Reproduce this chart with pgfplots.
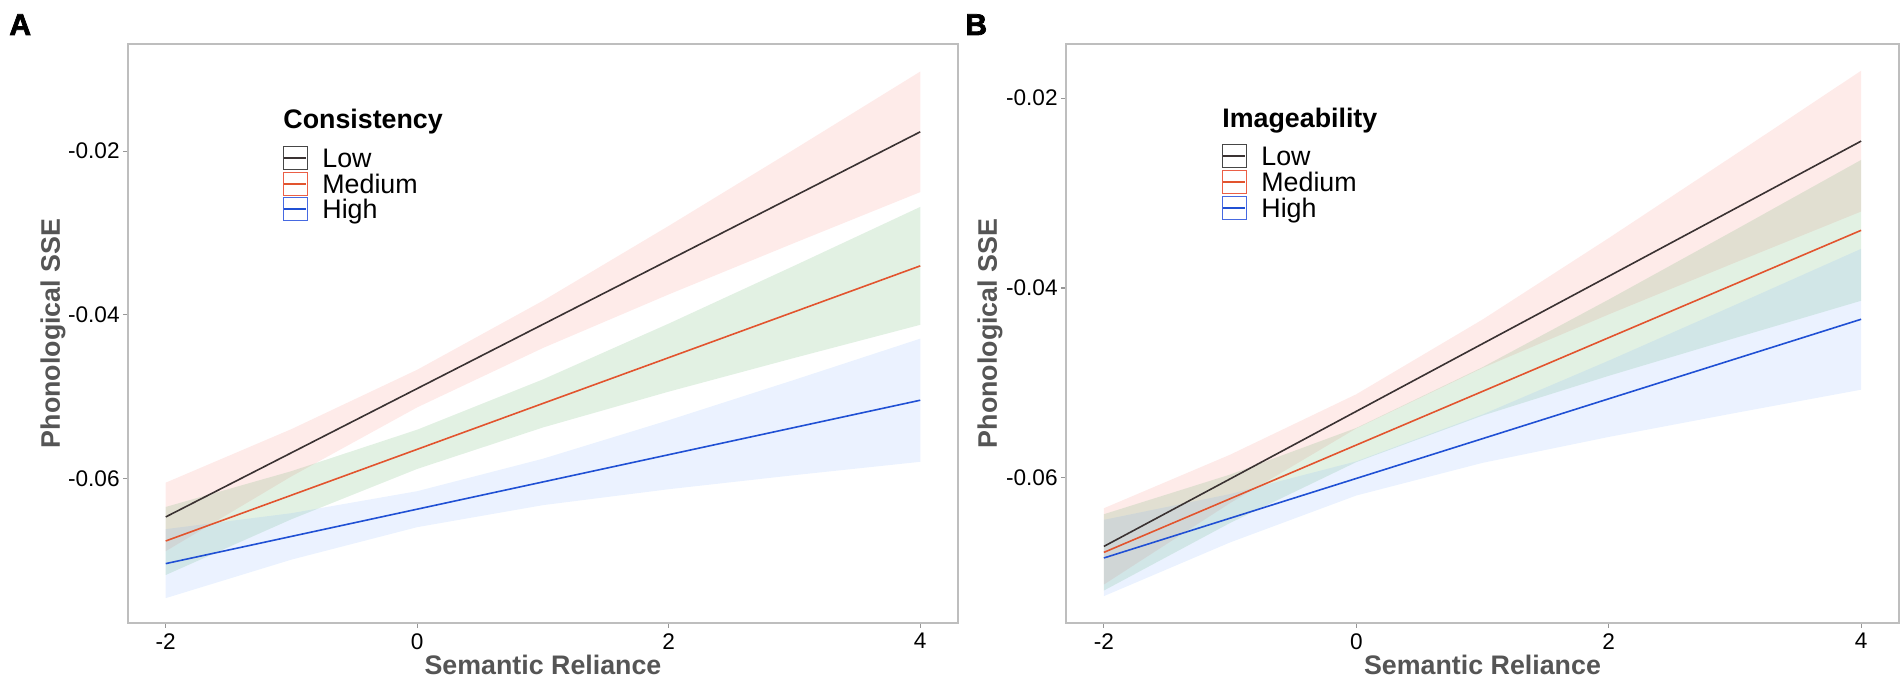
\documentclass[border=0pt]{standalone}
\usepackage{fontspec}
\setmainfont{Liberation Sans}
\newfontfamily\heavyfont[BoldFeatures={FakeBold=2.5}]{Liberation Sans}
\usepackage{pgfplots}
\usepackage{pgfplotstable}
\pgfplotsset{compat=1.18}
\usepgfplotslibrary{fillbetween}

\definecolor{lowline}{RGB}{58,50,50}
\definecolor{medline}{RGB}{226,84,46}
\definecolor{highline}{RGB}{32,80,212}
\definecolor{lowfill}{RGB}{248,118,109}
\definecolor{medfill}{RGB}{60,160,70}
\definecolor{highfill}{RGB}{97,156,255}
\definecolor{axgray}{RGB}{190,190,190}
\definecolor{tickgray}{RGB}{150,150,150}
\definecolor{labgray}{RGB}{85,85,85}
\definecolor{lowkey}{RGB}{70,70,70}
\definecolor{medkey}{RGB}{235,95,70}
\definecolor{highkey}{RGB}{70,105,225}

% Panel A: Consistency
\pgfplotstableread{
x lo fit hi
-2 -0.06892 -0.06473 -0.06054
-1 -0.05977 -0.05688 -0.05399
0 -0.05133 -0.04903 -0.04673
1 -0.04407 -0.04118 -0.03829
2 -0.03752 -0.03333 -0.02914
3 -0.03122 -0.02549 -0.01976
4 -0.02501 -0.01764 -0.01027
}\LowA
\pgfplotstableread{
x lo fit hi
-2 -0.07183 -0.06767 -0.06351
-1 -0.06501 -0.06207 -0.05913
0 -0.05886 -0.05646 -0.05406
1 -0.05379 -0.05085 -0.04791
2 -0.04941 -0.04525 -0.04109
3 -0.04528 -0.03964 -0.03400
4 -0.04124 -0.03403 -0.02682
}\MedA
\pgfplotstableread{
x lo fit hi
-2 -0.07466 -0.07044 -0.06622
-1 -0.06995 -0.06711 -0.06427
0 -0.06598 -0.06378 -0.06158
1 -0.06329 -0.06045 -0.05761
2 -0.06134 -0.05712 -0.05290
3 -0.05962 -0.05379 -0.04796
4 -0.05799 -0.05046 -0.04293
}\HighA
% Panel B: Imageability
\pgfplotstableread{
x lo fit hi
-2 -0.07125 -0.06723 -0.06321
-1 -0.06267 -0.06012 -0.05757
0 -0.05480 -0.05300 -0.05120
1 -0.04843 -0.04588 -0.04333
2 -0.04279 -0.03877 -0.03475
3 -0.03734 -0.03165 -0.02596
4 -0.03195 -0.02453 -0.01711
}\LowB
\pgfplotstableread{
x lo fit hi
-2 -0.07188 -0.06786 -0.06384
-1 -0.06476 -0.06221 -0.05966
0 -0.05835 -0.05655 -0.05475
1 -0.05345 -0.05090 -0.04835
2 -0.04926 -0.04524 -0.04122
3 -0.04528 -0.03959 -0.03390
4 -0.04135 -0.03393 -0.02651
}\MedB
\pgfplotstableread{
x lo fit hi
-2 -0.07247 -0.06845 -0.06443
-1 -0.06681 -0.06426 -0.06171
0 -0.06187 -0.06007 -0.05827
1 -0.05843 -0.05588 -0.05333
2 -0.05570 -0.05168 -0.04766
3 -0.05318 -0.04749 -0.04180
4 -0.05072 -0.04330 -0.03588
}\HighB

\pgfplotsset{panel/.style={
  scale only axis, height=289.5bp, anchor=south west,
  xmin=-2.3, xmax=4.3,
  xtick={-2,0,2,4}, xticklabels={-2,0,2,4},
  ytick={-0.06,-0.04,-0.02}, yticklabels={-0.06,-0.04,-0.02},
  scaled y ticks=false,
  axis line style={axgray, line width=0.8bp},
  tick style={tickgray, line width=0.6bp},
  tick align=outside, major tick length=2.5bp,
  tick pos=left,
  ticklabel style={font=\fontsize{11.3bp}{13bp}\selectfont, text=black},
  xticklabel style={inner sep=1bp, yshift=-1.5bp},
  yticklabel style={inner sep=1.5bp},
}}

\newcommand{\band}[4]{%
  \addplot[draw=none, name path=#2u] table[x=x,y=hi]{#1};
  \addplot[draw=none, name path=#2l] table[x=x,y=lo]{#1};
  \addplot[fill=#3, fill opacity=#4, draw=none] fill between[of=#2u and #2l];
}

\begin{document}
\begin{tikzpicture}

\begin{axis}[panel, at={(64bp,29bp)}, width=415bp, ymin=-0.0777, ymax=-0.0069]
  \band{\LowA}{la}{lowfill}{0.15}
  \band{\MedA}{ma}{medfill}{0.15}
  \band{\HighA}{ha}{highfill}{0.13}
  \addplot[lowline, line width=0.8bp] table[x=x,y=fit]{\LowA};
  \addplot[medline, line width=0.8bp] table[x=x,y=fit]{\MedA};
  \addplot[highline, line width=0.8bp] table[x=x,y=fit]{\HighA};
\end{axis}

\begin{axis}[panel, at={(533bp,29bp)}, width=416.5bp, ymin=-0.0753, ymax=-0.0143]
  \band{\LowB}{lb}{lowfill}{0.15}
  \band{\MedB}{mb}{medfill}{0.15}
  \band{\HighB}{hb}{highfill}{0.13}
  \addplot[lowline, line width=0.8bp] table[x=x,y=fit]{\LowB};
  \addplot[medline, line width=0.8bp] table[x=x,y=fit]{\MedB};
  \addplot[highline, line width=0.8bp] table[x=x,y=fit]{\HighB};
\end{axis}

% panel letters
\node[anchor=base west, inner sep=0, font=\fontsize{15bp}{17bp}\selectfont\heavyfont\bfseries] at (4.5bp,323bp) {A};
\node[anchor=base west, inner sep=0, font=\fontsize{15bp}{17bp}\selectfont\heavyfont\bfseries] at (482.5bp,323bp) {B};

% axis titles
\node[font=\fontsize{13.4bp}{15bp}\selectfont\bfseries, text=labgray] at (271.5bp,8bp) {Semantic Reliance};
\node[font=\fontsize{13.4bp}{15bp}\selectfont\bfseries, text=labgray] at (741.25bp,8bp) {Semantic Reliance};
\node[rotate=90, font=\fontsize{13.4bp}{15bp}\selectfont\bfseries, text=labgray] at (26.5bp,173.75bp) {Phonological SSE};
\node[rotate=90, font=\fontsize{13.4bp}{15bp}\selectfont\bfseries, text=labgray] at (495bp,173.75bp) {Phonological SSE};

% legend A
\node[anchor=base west, inner sep=0, font=\fontsize{13.4bp}{15bp}\selectfont\bfseries] at (141.5bp,276bp) {Consistency};
\foreach \yc/\col/\lcol/\lab in {261.5/lowkey/lowline/Low, 248.5/medkey/medline/Medium, 236/highkey/highline/High}{
  \draw[\col, line width=0.5bp] (141.5bp,\yc bp-5.75bp) rectangle (153.5bp,\yc bp+5.75bp);
  \draw[\lcol, line width=0.7bp] (142bp,\yc bp) -- (153bp,\yc bp);
  \node[anchor=base west, inner sep=0, font=\fontsize{13.4bp}{15bp}\selectfont] at (161bp,\yc bp-5bp) {\lab};
}
% legend B
\node[anchor=base west, inner sep=0, font=\fontsize{13.4bp}{15bp}\selectfont\bfseries] at (611bp,276.5bp) {Imageability};
\foreach \yc/\col/\lcol/\lab in {262.5/lowkey/lowline/Low, 249.5/medkey/medline/Medium, 236.5/highkey/highline/High}{
  \draw[\col, line width=0.5bp] (611bp,\yc bp-5.75bp) rectangle (623bp,\yc bp+5.75bp);
  \draw[\lcol, line width=0.7bp] (611.5bp,\yc bp) -- (622.5bp,\yc bp);
  \node[anchor=base west, inner sep=0, font=\fontsize{13.4bp}{15bp}\selectfont] at (630.5bp,\yc bp-5bp) {\lab};
}
\pgfresetboundingbox
\path[use as bounding box] (0,0) rectangle (951bp,340.5bp);
\end{tikzpicture}
\end{document}
